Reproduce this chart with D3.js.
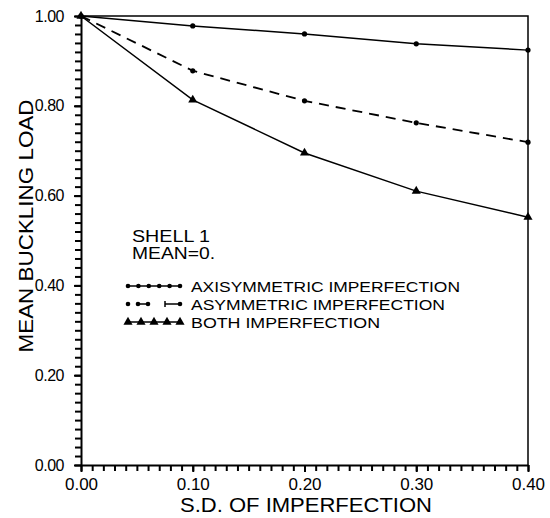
<!DOCTYPE html>
<html>
<head>
    <meta charset="utf-8">
    <title>Mean buckling load</title>
    <style>
        body { margin: 0; background: white; }
        svg { font-family: "Liberation Sans", Arial, sans-serif; }
    </style>
</head>
<body>
    <script src="https://cdnjs.cloudflare.com/ajax/libs/d3/7.8.5/d3.min.js"></script>
    <script>

// values
var sdValues     = [0.0, 0.1, 0.2, 0.3, 0.4];
var axisymmetric = [1.0, 0.978, 0.960, 0.938, 0.924];
var asymmetric   = [1.0, 0.878, 0.811, 0.762, 0.719];
var both         = [1.0, 0.813, 0.695, 0.610, 0.552];

var xTickLabels = ["0.00", "0.10", "0.20", "0.30", "0.40"];
var yTickLabels = ["0.00", "0.20", "0.40", "0.60", "0.80", "1.00"];
var legendLabels = ["AXISYMMETRIC  IMPERFECTION", "ASYMMETRIC  IMPERFECTION", "BOTH  IMPERFECTION"];

var config = {
    width: 550,
    height: 518,
    left: 81,
    right: 528,
    top: 16,
    bottom: 465
};

var svg = d3.select("body").append("svg")
    .attr("width", config.width)
    .attr("height", config.height);

var x = d3.scaleLinear().domain([0, 0.4]).range([config.left, config.right]);
var y = d3.scaleLinear().domain([0, 1]).range([config.bottom, config.top]);

// frame top / right
svg.append("path")
    .attr("d", "M" + x(0) + "," + y(1) + "H" + x(0.4) + "V" + y(0))
    .attr("fill", "none")
    .attr("stroke", "black")
    .attr("stroke-width", 1.5);

// minor ticks, no labels
var xMinor = d3.range(0, 41).map(function (i) { return i / 100; });
var yMinor = d3.range(0, 51).map(function (i) { return i / 50; });

var gxm = svg.append("g")
    .attr("transform", "translate(0," + config.bottom + ")")
    .call(d3.axisBottom(x).tickValues(xMinor).tickSize(6).tickSizeOuter(0).tickFormat(function () { return ""; }));
gxm.select(".domain").attr("stroke", "black").attr("stroke-width", 2);
gxm.selectAll(".tick line").attr("stroke", "black").attr("stroke-width", 2);

var gym = svg.append("g")
    .attr("transform", "translate(" + config.left + ",0)")
    .call(d3.axisLeft(y).tickValues(yMinor).tickSize(6).tickSizeOuter(0).tickFormat(function () { return ""; }));
gym.select(".domain").attr("stroke", "black").attr("stroke-width", 2);
gym.selectAll(".tick line").attr("stroke", "black").attr("stroke-width", 2);

// major ticks with labels
var gx = svg.append("g")
    .attr("transform", "translate(0," + config.bottom + ")")
    .call(d3.axisBottom(x).tickValues(sdValues).tickSize(7).tickPadding(6).tickSizeOuter(0)
        .tickFormat(function (d, i) { return xTickLabels[i]; }));
gx.select(".domain").remove();
gx.selectAll("line").attr("stroke-width", 2);
gx.selectAll("text")
    .attr("font-size", 17)
    .attr("font-family", "Liberation Sans, Arial, sans-serif")
    .attr("fill", "black");

var gy = svg.append("g")
    .attr("transform", "translate(" + config.left + ",0)")
    .call(d3.axisLeft(y).tickValues([0, 0.2, 0.4, 0.6, 0.8, 1.0]).tickSize(7).tickPadding(10).tickSizeOuter(0)
        .tickFormat(function (d, i) { return yTickLabels[i]; }));
gy.select(".domain").remove();
gy.selectAll("line").attr("stroke-width", 2);
gy.selectAll("text")
    .attr("font-size", 16)
    .attr("font-family", "Liberation Sans, Arial, sans-serif")
    .attr("letter-spacing", -0.5)
    .attr("fill", "black");

// axis titles
svg.append("text")
    .attr("x", 306)
    .attr("y", 512)
    .attr("text-anchor", "middle")
    .attr("font-size", 21)
    .attr("textLength", 252)
    .attr("lengthAdjust", "spacingAndGlyphs")
    .text("S.D.  OF  IMPERFECTION");

svg.append("text")
    .attr("transform", "translate(33,226) rotate(-90)")
    .attr("text-anchor", "middle")
    .attr("font-size", 21)
    .attr("textLength", 253)
    .attr("lengthAdjust", "spacingAndGlyphs")
    .text("MEAN  BUCKLING  LOAD");

// series
var line = d3.line()
    .x(function (d) { return x(d[0]); })
    .y(function (d) { return y(d[1]); });

function pts(vals) {
    return sdValues.map(function (s, i) { return [s, vals[i]]; });
}

var triangle = d3.symbol().type(d3.symbolTriangle).size(36);

var series = [
    { values: axisymmetric, dash: null, marker: "dot" },
    { values: asymmetric, dash: "10,7", marker: "dot" },
    { values: both, dash: null, marker: "tri" }
];

series.forEach(function (s) {
    svg.append("path")
        .datum(pts(s.values))
        .attr("d", line)
        .attr("fill", "none")
        .attr("stroke", "black")
        .attr("stroke-width", s.dash ? 1.8 : 1.5)
        .attr("stroke-dasharray", s.dash);

    var g = svg.append("g");
    pts(s.values).forEach(function (p) {
        if (s.marker === "dot") {
            g.append("circle")
                .attr("cx", x(p[0])).attr("cy", y(p[1])).attr("r", 2.6)
                .attr("fill", "black");
        } else {
            g.append("path")
                .attr("d", triangle)
                .attr("transform", "translate(" + x(p[0]) + "," + y(p[1]) + ")")
                .attr("fill", "black");
        }
    });
});

// legend
var lg = svg.append("g").attr("transform", "translate(132,0)");

lg.append("text").attr("x", 0).attr("y", 242).attr("font-size", 16)
    .attr("textLength", 78).attr("lengthAdjust", "spacingAndGlyphs").text("SHELL  1");
lg.append("text").attr("x", 0).attr("y", 259).attr("font-size", 16)
    .attr("textLength", 83).attr("lengthAdjust", "spacingAndGlyphs").text("MEAN=0.");

var rowY = [286, 304, 322];
var textLen = [269, 254, 189];

legendLabels.forEach(function (label, i) {
    var ry = rowY[i];
    var x0 = -4, x1 = 48;
    if (i === 1) {
        // broken line pieces
        [[6, 16], [33, 48]].forEach(function (seg) {
            lg.append("line")
                .attr("x1", seg[0]).attr("x2", seg[1]).attr("y1", ry).attr("y2", ry)
                .attr("stroke", "black").attr("stroke-width", 1.5);
        });
        lg.append("line").attr("x1", 33).attr("x2", 33).attr("y1", ry - 3).attr("y2", ry + 3)
            .attr("stroke", "black").attr("stroke-width", 1.5);
        [-4, 6, 16, 48].forEach(function (mx) {
            lg.append("circle").attr("cx", mx).attr("cy", ry).attr("r", 2.3).attr("fill", "black");
        });
    } else {
        lg.append("line")
            .attr("x1", x0).attr("x2", x1).attr("y1", ry).attr("y2", ry)
            .attr("stroke", "black").attr("stroke-width", 1.5);
        var n = i === 0 ? 6 : 5;
        d3.range(n).forEach(function (k) {
            var mx = x0 + k * (x1 - x0) / (n - 1);
            if (i === 0) {
                lg.append("circle").attr("cx", mx).attr("cy", ry).attr("r", 2.3).attr("fill", "black");
            } else {
                lg.append("path").attr("d", triangle)
                    .attr("transform", "translate(" + mx + "," + ry + ")")
                    .attr("fill", "black");
            }
        });
    }
    lg.append("text")
        .attr("x", 59)
        .attr("y", ry + 6)
        .attr("font-size", 15.5)
        .attr("textLength", textLen[i])
        .attr("lengthAdjust", "spacingAndGlyphs")
        .text(label);
});
    </script>
</body>
</html>
